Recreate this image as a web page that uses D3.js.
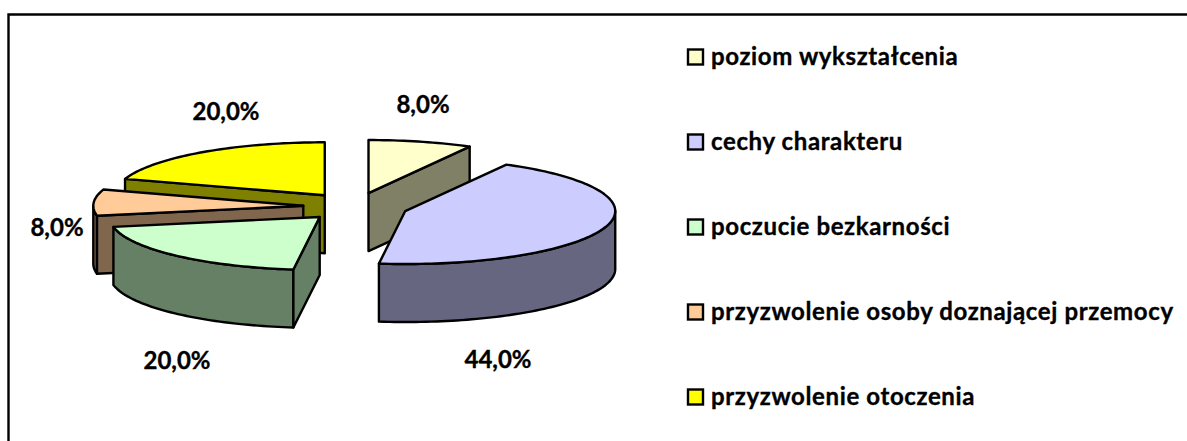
<!DOCTYPE html>
<html>
<head>
<meta charset="utf-8">
<style>
  html, body { margin: 0; padding: 0; background: #fff; }
  text { font-family: Lato, "Open Sans", sans-serif; font-weight: 700; fill: #000; stroke: #000; stroke-width: 0.35; }
</style>
<script src="https://cdn.jsdelivr.net/npm/d3@7"></script>
</head>
<body>
<script>
var categories = ["poziom wykształcenia", "cechy charakteru", "poczucie bezkarności", "przyzwolenie osoby doznającej przemocy", "przyzwolenie otoczenia"];
var values = [8, 44, 20, 8, 20];
var labels = ["8,0%", "44,0%", "20,0%", "8,0%", "20,0%"];
var colors = ["#FFFFCC", "#CCCCFF", "#CCFFCC", "#FFCC99", "#FFFF00"];

var width = 1187, height = 441;
var cx = 355.5, cy = 206.7, depth = 58;
var labelAt = [[423, 105], [498, 360], [177, 361], [57, 228], [226, 112]];
var paintOrder = [0, 4, 3, 2, 1];

var svg = d3.select("body").append("svg")
    .attr("width", width)
    .attr("height", height)
    .style("display", "block");

// chart frame, only left and top survive the crop
svg.append("path")
    .attr("d", "M8.5," + height + "V14.5H" + width)
    .attr("fill", "none")
    .attr("stroke", "#000")
    .attr("stroke-width", 2.4);

// unit circle -> flattened ellipse on screen
var x = d3.scaleLinear().domain([-1, 1]).range([-210, 210]);
var y = d3.scaleLinear().domain([-1, 1]).range([53, -53]);
var explodeX = d3.scaleLinear().domain([-1, 1]).range([-52.3, 52.3]);
var explodeY = d3.scaleLinear().domain([-1, 1]).range([14.1, -14.1]);

var slices = d3.pie().sort(null)(values);
var line = d3.line();

function rim(a0, a1) {
    var n = Math.max(2, Math.ceil((a1 - a0) * 40));
    return d3.range(n + 1).map(function(i) {
        var a = a0 + (a1 - a0) * i / n;
        return [x(Math.sin(a)), y(Math.cos(a))];
    });
}

function wall(points) {
    var lower = points.map(function(p) { return [p[0], p[1] + depth]; }).reverse();
    return line(points.concat(lower)) + "Z";
}

function drawSlice(i) {
    var s = slices[i];
    var mid = (s.startAngle + s.endAngle) / 2;
    var dark = d3.interpolateRgb(colors[i], "#000")(0.5);
    var g = svg.append("g")
        .attr("transform", "translate(" + (cx + explodeX(Math.sin(mid))) + "," + (cy + explodeY(Math.cos(mid))) + ")")
        .attr("stroke", "#000")
        .attr("stroke-width", 2.4)
        .attr("stroke-linejoin", "round");

    // outer wall shows on the front half only
    var from = Math.max(s.startAngle, Math.PI / 2), to = Math.min(s.endAngle, Math.PI * 1.5);
    if (from < to) {
        g.append("path").attr("d", wall(rim(from, to))).attr("fill", dark);
    }
    // cut faces
    if (s.startAngle > Math.PI && s.startAngle < Math.PI * 2) {
        g.append("path").attr("d", wall([[0, 0]].concat(rim(s.startAngle, s.startAngle + 0.0001).slice(0, 1)))).attr("fill", dark);
    }
    if (s.endAngle > 0 && s.endAngle < Math.PI) {
        g.append("path").attr("d", wall([[0, 0]].concat(rim(s.endAngle, s.endAngle + 0.0001).slice(0, 1)))).attr("fill", dark);
    }
    g.append("path")
        .attr("d", line([[0, 0]].concat(rim(s.startAngle, s.endAngle))) + "Z")
        .attr("fill", colors[i]);
}

paintOrder.forEach(drawSlice);

svg.selectAll(".pct")
    .data(labels)
    .enter()
    .append("text")
    .attr("class", "pct")
    .attr("x", function(d, i) { return labelAt[i][0]; })
    .attr("y", function(d, i) { return labelAt[i][1]; })
    .attr("dy", "0.35em")
    .attr("text-anchor", "middle")
    .attr("font-size", 24)
    .text(function(d) { return d; });

// legend
var rowY = d3.scalePoint().domain(categories).range([57, 397]);
var rows = svg.selectAll(".row")
    .data(categories)
    .enter()
    .append("g")
    .attr("class", "row")
    .attr("transform", function(d) { return "translate(687," + rowY(d) + ")"; });

rows.append("rect")
    .attr("x", 1)
    .attr("y", -7.5)
    .attr("width", 15)
    .attr("height", 15)
    .attr("fill", function(d, i) { return colors[i]; })
    .attr("stroke", "#000")
    .attr("stroke-width", 2.4);

rows.append("text")
    .attr("x", 24)
    .attr("dy", "0.35em")
    .attr("font-size", 24)
    .attr("letter-spacing", 0.62)
    .text(function(d) { return d; });
</script>
</body>
</html>
